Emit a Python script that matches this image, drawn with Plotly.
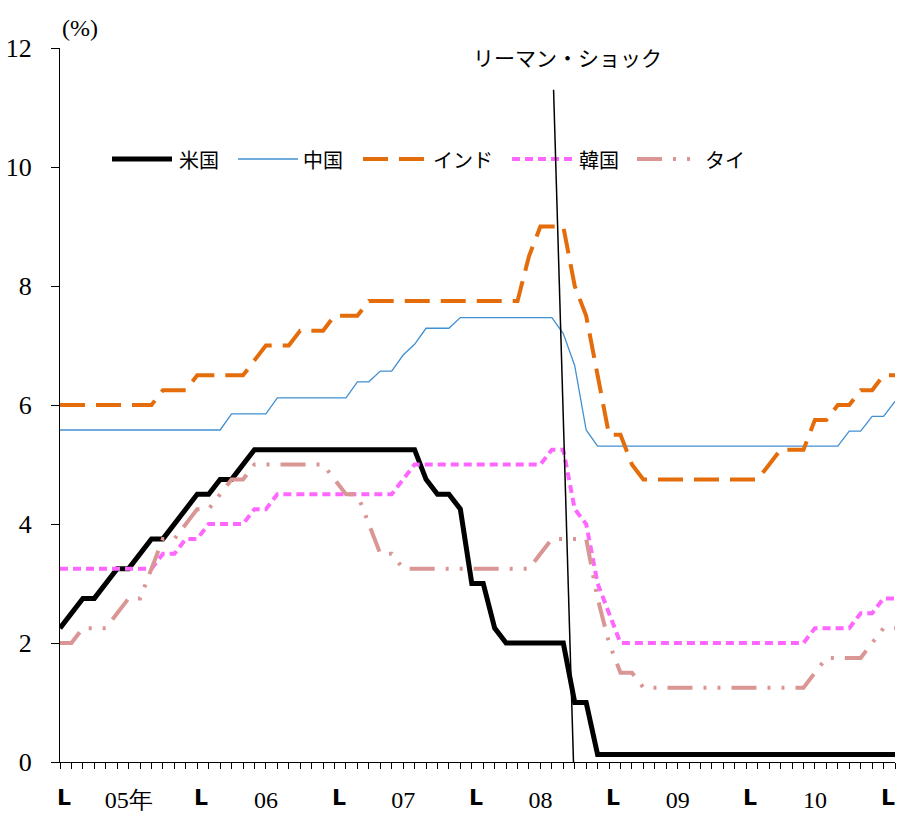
import plotly.graph_objects as go

# ---------------- data (month-end policy rates, Jan 2005 .. Feb 2011) ----------------
us = [2.25, 2.5, 2.75, 2.75, 3.0, 3.25, 3.25, 3.5, 3.75, 3.75, 4.0, 4.25,
      4.5, 4.5, 4.75, 4.75, 5.0, 5.25, 5.25, 5.25, 5.25, 5.25, 5.25, 5.25,
      5.25, 5.25, 5.25, 5.25, 5.25, 5.25, 5.25, 5.25, 4.75, 4.5, 4.5, 4.25,
      3.0, 3.0, 2.25, 2.0, 2.0, 2.0, 2.0, 2.0, 2.0, 1.0, 1.0, 0.125,
      0.125, 0.125, 0.125, 0.125, 0.125, 0.125, 0.125, 0.125, 0.125, 0.125, 0.125, 0.125,
      0.125, 0.125, 0.125, 0.125, 0.125, 0.125, 0.125, 0.125, 0.125, 0.125, 0.125, 0.125,
      0.125, 0.125]

china = [5.58, 5.58, 5.58, 5.58, 5.58, 5.58, 5.58, 5.58, 5.58, 5.58, 5.58, 5.58,
         5.58, 5.58, 5.58, 5.85, 5.85, 5.85, 5.85, 6.12, 6.12, 6.12, 6.12, 6.12,
         6.12, 6.12, 6.39, 6.39, 6.57, 6.57, 6.84, 7.02, 7.29, 7.29, 7.29, 7.47,
         7.47, 7.47, 7.47, 7.47, 7.47, 7.47, 7.47, 7.47, 7.20, 6.66, 5.58, 5.31,
         5.31, 5.31, 5.31, 5.31, 5.31, 5.31, 5.31, 5.31, 5.31, 5.31, 5.31, 5.31,
         5.31, 5.31, 5.31, 5.31, 5.31, 5.31, 5.31, 5.31, 5.31, 5.56, 5.56, 5.81,
         5.81, 6.06]

india = [6.0, 6.0, 6.0, 6.0, 6.0, 6.0, 6.0, 6.0, 6.0, 6.25, 6.25, 6.25,
         6.5, 6.5, 6.5, 6.5, 6.5, 6.75, 7.0, 7.0, 7.0, 7.25, 7.25, 7.25,
         7.5, 7.5, 7.5, 7.75, 7.75, 7.75, 7.75, 7.75, 7.75, 7.75, 7.75, 7.75,
         7.75, 7.75, 7.75, 7.75, 7.75, 8.5, 9.0, 9.0, 9.0, 8.0, 7.5, 6.5,
         5.5, 5.5, 5.0, 4.75, 4.75, 4.75, 4.75, 4.75, 4.75, 4.75, 4.75, 4.75,
         4.75, 4.75, 5.0, 5.25, 5.25, 5.25, 5.75, 5.75, 6.0, 6.0, 6.25, 6.25,
         6.5, 6.5]

korea = [3.25, 3.25, 3.25, 3.25, 3.25, 3.25, 3.25, 3.25, 3.25, 3.5, 3.5, 3.75,
         3.75, 4.0, 4.0, 4.0, 4.0, 4.25, 4.25, 4.5, 4.5, 4.5, 4.5, 4.5,
         4.5, 4.5, 4.5, 4.5, 4.5, 4.5, 4.75, 5.0, 5.0, 5.0, 5.0, 5.0,
         5.0, 5.0, 5.0, 5.0, 5.0, 5.0, 5.0, 5.25, 5.25, 4.25, 4.0, 3.0,
         2.5, 2.0, 2.0, 2.0, 2.0, 2.0, 2.0, 2.0, 2.0, 2.0, 2.0, 2.0,
         2.0, 2.0, 2.0, 2.0, 2.0, 2.0, 2.25, 2.25, 2.25, 2.25, 2.5, 2.5,
         2.75, 2.75]

thai = [2.0, 2.0, 2.25, 2.25, 2.25, 2.5, 2.75, 2.75, 3.25, 3.75, 3.75, 4.0,
        4.25, 4.25, 4.5, 4.75, 4.75, 5.0, 5.0, 5.0, 5.0, 5.0, 5.0, 5.0,
        4.75, 4.5, 4.5, 4.0, 3.5, 3.5, 3.25, 3.25, 3.25, 3.25, 3.25, 3.25,
        3.25, 3.25, 3.25, 3.25, 3.25, 3.25, 3.5, 3.75, 3.75, 3.75, 3.75, 2.75,
        2.0, 1.5, 1.5, 1.25, 1.25, 1.25, 1.25, 1.25, 1.25, 1.25, 1.25, 1.25,
        1.25, 1.25, 1.25, 1.25, 1.25, 1.25, 1.5, 1.75, 1.75, 1.75, 1.75, 2.0,
        2.25, 2.25]

series_names = ["米国", "中国", "インド", "韓国", "タイ"]
year_tick_pos = [6, 18, 30, 42, 54, 66]
year_tick_text = ["05年", "06", "07", "08", "09", "10"]
year_start_pos = [0, 12, 24, 36, 48, 60, 72]
y_ticks = [0, 2, 4, 6, 8, 10, 12]

month_idx = list(range(len(us)))

# ---------------- layout helpers ----------------
W, H = 898, 813
ML, MT = 60, 48
PW, PH = 835, 714
MR, MB = W - ML - PW, H - MT - PH


def pxx(xp):
    """window pixel x -> paper x"""
    return (xp - ML) / PW


def pxy(yp):
    """window pixel y -> paper y"""
    return (MT + PH - yp) / PH


styles = [
    dict(color="#000000", width=5),
    dict(color="#4190d3", width=1.3),
    dict(color="#e46c0a", width=4, dash="25px,11px"),
    dict(color="#ff66ff", width=4, dash="8px,5px"),
    dict(color="#d99694", width=4, dash="25px,11px,3px,11px,3px,11px"),
]

fig = go.Figure()
for name, vals, st in zip(series_names, [us, china, india, korea, thai], styles):
    fig.add_trace(go.Scatter(x=month_idx, y=vals, mode="lines", name=name,
                             line=st, showlegend=False, hoverinfo="skip"))

serif = "Liberation Serif"
cjk = "Noto Sans CJK JP"

shapes = []
annotations = []

# manual legend
legend_items = [
    (112, 172, 177),
    (238, 298, 301),
    (363, 426, 431),
    (512, 574, 577),
    (637, 694, 703),
]
LEG_Y = 159
for (x0, x1, xt), name, st in zip(legend_items, series_names, styles):
    shapes.append(dict(type="line", xref="paper", yref="paper",
                       x0=pxx(x0), x1=pxx(x1), y0=pxy(LEG_Y), y1=pxy(LEG_Y),
                       line=st, layer="above"))
    annotations.append(dict(text=name, xref="paper", yref="paper",
                            x=pxx(xt), y=pxy(LEG_Y), xanchor="left", yanchor="middle",
                            showarrow=False, font=dict(family=cjk, size=20, color="black")))

# Lehman shock marker
shapes.append(dict(type="line", xref="x", yref="y", x0=43.15, y0=11.3, x1=44.9, y1=-0.05,
                   line=dict(color="black", width=1.5), layer="above"))
annotations.append(dict(text="リーマン・ショック", xref="x", yref="y", x=44.4, y=11.85,
                        xanchor="center", yanchor="middle", showarrow=False,
                        font=dict(family=cjk, size=21, color="black")))

# unit label
annotations.append(dict(text="(%)", xref="paper", yref="paper", x=pxx(60), y=pxy(28),
                        xanchor="left", yanchor="middle", showarrow=False,
                        font=dict(family=serif, size=24, color="black")))

# year-start markers
for p in year_start_pos:
    annotations.append(dict(text="<b>L</b>", xref="x", yref="paper", x=p, y=pxy(797),
                            xanchor="left", yanchor="middle", showarrow=False, xshift=-5,
                            font=dict(family="DejaVu Sans", size=22, color="black")))

fig.update_layout(
    width=W, height=H,
    margin=dict(l=ML, r=MR, t=MT, b=MB, pad=0),
    paper_bgcolor="white", plot_bgcolor="white",
    showlegend=False,
    shapes=shapes, annotations=annotations,
    xaxis=dict(range=[0, 73], showgrid=False, zeroline=False, automargin=False,
               showline=True, linecolor="black", linewidth=1.3,
               tickmode="array", tickvals=year_tick_pos, ticktext=year_tick_text,
               ticks="outside", ticklen=6, tickcolor="black", tickwidth=1,
               ticklabelstandoff=10,
               tickfont=dict(family=serif, size=24, color="black"),
               minor=dict(ticks="outside", ticklen=6, dtick=1, tick0=0,
                          tickcolor="black", tickwidth=1, showgrid=False)),
    yaxis=dict(range=[0, 12], showgrid=False, zeroline=False, automargin=False,
               showline=True, linecolor="black", linewidth=1.3,
               tickmode="array", tickvals=y_ticks,
               ticks="outside", ticklen=8, tickcolor="black", tickwidth=1,
               ticklabelstandoff=14,
               tickfont=dict(family=serif, size=26, color="black")),
)

fig.write_html("out.html", config={"displayModeBar": False},
               post_script="document.body.style.margin='0';")
